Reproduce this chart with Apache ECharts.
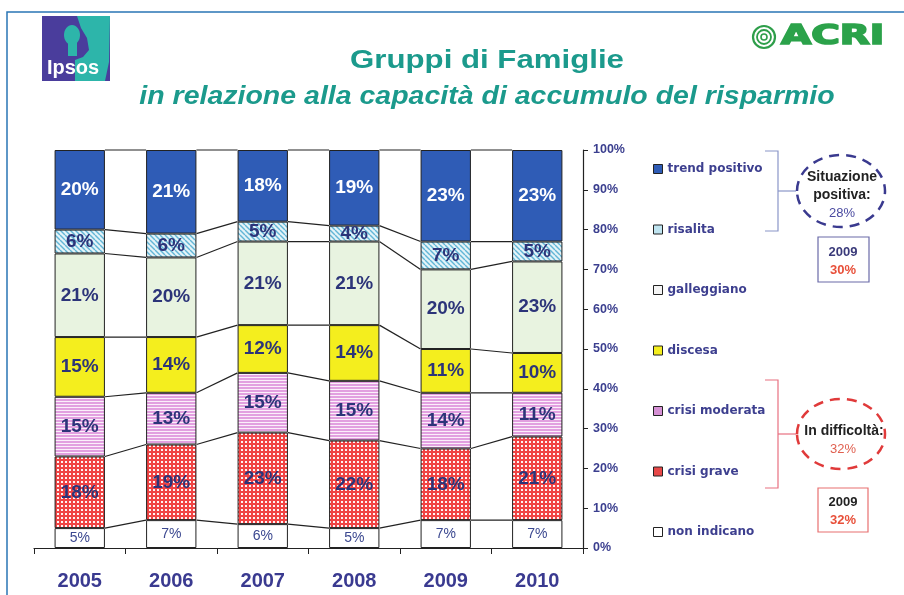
<!DOCTYPE html>
<html>
<head>
<meta charset="utf-8">
<script src="https://cdn.jsdelivr.net/npm/echarts@6/dist/echarts.min.js"></script>
<style>
html,body{margin:0;padding:0;background:#fff;}
#c{width:904px;height:595px;}
</style>
</head>
<body>
<div id="c"></div>
<script>
// ---- data ----
const years = ['2005', '2006', '2007', '2008', '2009', '2010'];
const seriesNames = ['non indicano', 'crisi grave', 'crisi moderata', 'discesa', 'galleggiano', 'risalita', 'trend positivo'];
const nonIndicano   = [5, 7, 6, 5, 7, 7];
const crisiGrave    = [18, 19, 23, 22, 18, 21];
const crisiModerata = [15, 13, 15, 15, 14, 11];
const discesa       = [15, 14, 12, 14, 11, 10];
const galleggiano   = [21, 20, 21, 21, 20, 23];
const risalita      = [6, 6, 5, 4, 7, 5];
const trendPositivo = [20, 21, 18, 19, 23, 23];
const legendOrder = ['trend positivo', 'risalita', 'galleggiano', 'discesa', 'crisi moderata', 'crisi grave', 'non indicano'];

const values = [nonIndicano, crisiGrave, crisiModerata, discesa, galleggiano, risalita, trendPositivo];

// ---- patterns ----
function makePattern(w, h, draw) {
  const c = document.createElement('canvas');
  c.width = w; c.height = h;
  draw(c.getContext('2d'));
  return { image: c, repeat: 'repeat' };
}
const hatch = makePattern(5, 5, ctx => {
  ctx.fillStyle = '#E4F3F8'; ctx.fillRect(0, 0, 5, 5);
  ctx.strokeStyle = '#62B6D6'; ctx.lineWidth = 1.4;
  for (const x of [-5, 0, 5]) { ctx.beginPath(); ctx.moveTo(x, 0); ctx.lineTo(x + 5, 5); ctx.stroke(); }
});
const stripes = makePattern(4, 3, ctx => {
  ctx.fillStyle = '#E2A0E0'; ctx.fillRect(0, 0, 4, 3);
  ctx.fillStyle = '#FBEFFA'; ctx.fillRect(0, 2, 4, 1);
});
const dots = makePattern(4, 4, ctx => {
  ctx.fillStyle = '#F04444'; ctx.fillRect(0, 0, 4, 4);
  ctx.fillStyle = '#FFF4F4'; ctx.fillRect(1, 1, 2, 2);
});

const fills = ['#FFFFFF', dots, stripes, '#F4EE1E', '#E8F3E0', hatch, '#2F5CB6'];
const legendColors = {
  'non indicano': '#FFFFFF', 'crisi grave': '#E84848', 'crisi moderata': '#D590D4',
  'discesa': '#F4EE1E', 'galleggiano': '#F4F4F4', 'risalita': '#BFE4F0', 'trend positivo': '#2F5CB6'
};

const navy = '#2C3479';
const barSeries = seriesNames.map((name, k) => ({
  name: name,
  type: 'bar',
  stack: 'all',
  barWidth: '55%',
  data: values[k],
  itemStyle: { color: fills[k], borderColor: '#222', borderWidth: 1 },
  label: {
    show: true,
    position: 'inside',
    formatter: '{c}%',
    fontFamily: 'Liberation Sans, Arial, sans-serif',
    fontWeight: k === 0 ? 'normal' : 'bold',
    fontSize: k === 0 ? 14 : 19,
    color: k === 6 ? '#FFFFFF' : (k === 0 ? '#3B4890' : navy)
  }
}));

// series-line data: cumulative boundaries between adjacent bars
const lineData = [];
for (let k = 0; k < values.length; k++) {
  for (let i = 0; i < years.length - 1; i++) {
    let a = 0, b = 0;
    for (let j = 0; j <= k; j++) { a += values[j][i]; b += values[j][i + 1]; }
    lineData.push([i, a, b]);
  }
}

const chart = echarts.init(document.getElementById('c'), null, { renderer: 'canvas' });

const option = {
  animation: false,
  backgroundColor: '#FFFFFF',
  grid: { left: 34, right: 321, top: 150, bottom: 47 },
  xAxis: {
    type: 'category',
    data: years,
    axisLine: { lineStyle: { color: '#222', width: 1.2 } },
    axisTick: { show: true, length: 6, lineStyle: { color: '#222' } },
    axisLabel: {
      margin: 23, fontSize: 20, fontWeight: 'bold', color: '#3A3A90',
      fontFamily: 'Liberation Sans, Arial, sans-serif'
    }
  },
  yAxis: {
    type: 'value',
    position: 'right',
    min: 0, max: 100, interval: 10,
    splitLine: { show: false },
    axisLine: { show: true, lineStyle: { color: '#222', width: 1.2 } },
    axisTick: { show: true, length: 5, lineStyle: { color: '#222' } },
    axisLabel: {
      formatter: '{value}%', margin: 10, fontSize: 12.5, fontWeight: 'bold', color: '#3B3F8F',
      fontFamily: 'Liberation Sans, Arial, sans-serif'
    }
  },
  legend: {
    orient: 'vertical',
    left: 648, top: 157,
    itemWidth: 9, itemHeight: 9, itemGap: 46.5,
    selectedMode: false,
    icon: 'rect',
    textStyle: { fontFamily: 'DejaVu Sans', fontWeight: 'bold', fontSize: 12, color: '#3D3F8F', lineHeight: 14 },
    data: legendOrder.map(n => ({ name: n, itemStyle: { color: legendColors[n], borderColor: '#222', borderWidth: 1 } }))
  },
  series: barSeries.concat([{
    type: 'custom',
    name: 'series-lines',
    silent: true,
    z: 3,
    data: lineData,
    encode: { x: 0, y: [1, 2] },
    renderItem: function (params, api) {
      const i = api.value(0);
      const p0 = api.coord([i, api.value(1)]);
      const p1 = api.coord([i + 1, api.value(2)]);
      const half = api.size([1, 0])[0] * 0.55 / 2;
      return {
        type: 'line',
        shape: { x1: p0[0] + half, y1: p0[1], x2: p1[0] - half, y2: p1[1] },
        style: { stroke: '#222', lineWidth: 1.2 }
      };
    }
  }]),
  graphic: [
    // frame
    { type: 'rect', shape: { x: 7, y: 12, width: 1200, height: 1200 }, style: { fill: 'none', stroke: '#2A75B5', lineWidth: 1.5 }, silent: true },
    // Ipsos logo
    { type: 'rect', shape: { x: 42, y: 16, width: 68, height: 65 }, style: { fill: '#4A3D9C' } },
    { type: 'polygon', shape: { points: [[77, 16], [110, 16], [109, 62], [105, 81], [75, 81], [75, 60], [83, 57], [89, 50], [87, 38], [81, 28]] }, style: { fill: '#2DB5AA' } },
    { type: 'ellipse', shape: { cx: 72, cy: 35, rx: 8, ry: 10 }, style: { fill: '#2DB5AA' } },
    { type: 'rect', shape: { x: 68, y: 42, width: 9, height: 14 }, style: { fill: '#2DB5AA' } },
    { type: 'text', x: 73, y: 68, style: { text: 'Ipsos', font: 'bold 20px Liberation Sans, Arial, sans-serif', fill: '#FFFFFF', align: 'center', verticalAlign: 'middle' } },
    // ACRI logo
    { type: 'circle', shape: { cx: 764, cy: 37, r: 11 }, style: { fill: 'none', stroke: '#2E9E4A', lineWidth: 2.2 } },
    { type: 'circle', shape: { cx: 764, cy: 37, r: 7 }, style: { fill: 'none', stroke: '#2E9E4A', lineWidth: 1.8 } },
    { type: 'circle', shape: { cx: 764, cy: 37, r: 3 }, style: { fill: 'none', stroke: '#2E9E4A', lineWidth: 1.6 } },
    { type: 'text', x: 781, y: 37, scaleX: 1.5, style: { text: 'ACRI', font: 'bold 26px DejaVu Sans', fill: '#2BA24A', stroke: '#2BA24A', lineWidth: 1.6, align: 'left', verticalAlign: 'middle' } },
    // titles
    { type: 'text', x: 487, y: 61, scaleX: 1.2, style: { text: 'Gruppi di Famiglie', font: 'bold 26px Liberation Sans, Arial, sans-serif', fill: '#1B9A8C', align: 'center', verticalAlign: 'middle' } },
    { type: 'text', x: 487, y: 97, scaleX: 1.14, style: { text: 'in relazione alla capacità di accumulo del risparmio', font: 'italic bold 25px Liberation Sans, Arial, sans-serif', fill: '#1B9A8C', align: 'center', verticalAlign: 'middle' } },
    // positive bracket
    { type: 'polyline', shape: { points: [[765, 151], [778, 151], [778, 231], [765, 231]] }, style: { stroke: '#8A96C8', lineWidth: 1.2, fill: 'none' } },
    { type: 'line', shape: { x1: 778, y1: 191, x2: 796, y2: 191 }, style: { stroke: '#8A96C8', lineWidth: 1.2 } },
    { type: 'ellipse', shape: { cx: 841, cy: 191, rx: 44, ry: 36 }, style: { fill: 'none', stroke: '#3A3A8F', lineWidth: 2.5, lineDash: [10, 7] } },
    { type: 'text', x: 842, y: 177, style: { text: 'Situazione', font: 'bold 14px Liberation Sans, Arial, sans-serif', fill: '#222', align: 'center', verticalAlign: 'middle' } },
    { type: 'text', x: 842, y: 195, style: { text: 'positiva:', font: 'bold 14px Liberation Sans, Arial, sans-serif', fill: '#222', align: 'center', verticalAlign: 'middle' } },
    { type: 'text', x: 842, y: 213, style: { text: '28%', font: '13px Liberation Sans, Arial, sans-serif', fill: '#4A4AA0', align: 'center', verticalAlign: 'middle' } },
    { type: 'rect', shape: { x: 818, y: 237, width: 51, height: 45 }, style: { fill: 'none', stroke: '#6A6AA8', lineWidth: 1.2 } },
    { type: 'text', x: 843, y: 252, style: { text: '2009', font: 'bold 13px Liberation Sans, Arial, sans-serif', fill: '#3A3A7A', align: 'center', verticalAlign: 'middle' } },
    { type: 'text', x: 843, y: 270, style: { text: '30%', font: 'bold 13px Liberation Sans, Arial, sans-serif', fill: '#E8503A', align: 'center', verticalAlign: 'middle' } },
    // difficulty bracket
    { type: 'polyline', shape: { points: [[765, 380], [778, 380], [778, 488], [765, 488]] }, style: { stroke: '#E87080', lineWidth: 1.2, fill: 'none' } },
    { type: 'line', shape: { x1: 778, y1: 434, x2: 796, y2: 434 }, style: { stroke: '#E87080', lineWidth: 1.2 } },
    { type: 'ellipse', shape: { cx: 841, cy: 434, rx: 44, ry: 35 }, style: { fill: 'none', stroke: '#E03A3A', lineWidth: 2.5, lineDash: [10, 7] } },
    { type: 'text', x: 844, y: 431, style: { text: 'In difficoltà:', font: 'bold 14px Liberation Sans, Arial, sans-serif', fill: '#222', align: 'center', verticalAlign: 'middle' } },
    { type: 'text', x: 843, y: 449, style: { text: '32%', font: '13px Liberation Sans, Arial, sans-serif', fill: '#E06050', align: 'center', verticalAlign: 'middle' } },
    { type: 'rect', shape: { x: 818, y: 488, width: 50, height: 44 }, style: { fill: 'none', stroke: '#E87070', lineWidth: 1.2 } },
    { type: 'text', x: 843, y: 502, style: { text: '2009', font: 'bold 13px Liberation Sans, Arial, sans-serif', fill: '#222', align: 'center', verticalAlign: 'middle' } },
    { type: 'text', x: 843, y: 520, style: { text: '32%', font: 'bold 13px Liberation Sans, Arial, sans-serif', fill: '#E8503A', align: 'center', verticalAlign: 'middle' } }
  ]
};
chart.setOption(option);
</script>
</body>
</html>
